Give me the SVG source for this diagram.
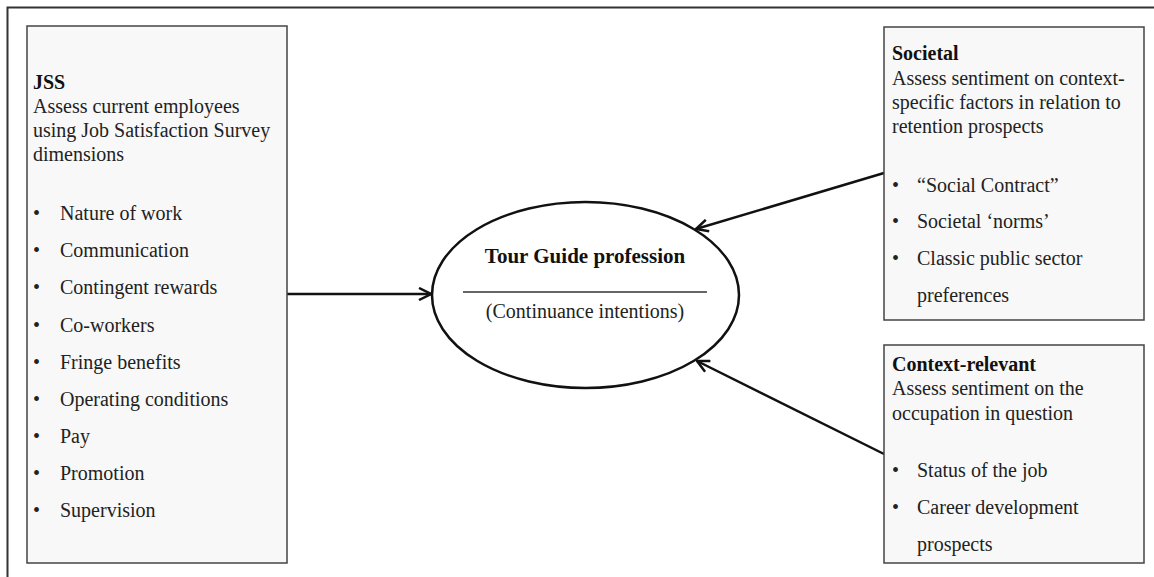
<svg xmlns="http://www.w3.org/2000/svg" width="1154" height="577" viewBox="0 0 1154 577">
<style>
.box{fill:#f8f8f8;stroke:#444;stroke-width:1.5}
.t{font-family:"Liberation Serif","Times New Roman",serif;font-size:20px;fill:#222}
.b{font-family:"Liberation Serif","Times New Roman",serif;font-size:20px;font-weight:bold;fill:#111}
.tb{font-family:"Liberation Serif","Times New Roman",serif;font-size:21px;font-weight:bold;fill:#111}
.conn{stroke:#111;stroke-width:2.5;fill:none}
</style>
<defs>
<marker id="arr" viewBox="0 0 14 14" refX="13" refY="7" markerWidth="14" markerHeight="14" markerUnits="userSpaceOnUse" orient="auto">
<path d="M1,1 L13,7 L1,13" fill="none" stroke="#111" stroke-width="2.5"/>
</marker>
</defs>
<rect width="1154" height="577" fill="#fff"/>
<g id="frame">
<path d="M7.5,577 L7.5,7.5 L1154,7.5" fill="none" stroke="#333" stroke-width="2"/>
</g>
<g id="connectors">
<line class="conn" x1="287" y1="294" x2="431" y2="294" marker-end="url(#arr)"/>
<line class="conn" x1="884" y1="173" x2="696" y2="229" marker-end="url(#arr)"/>
<line class="conn" x1="884" y1="454" x2="697" y2="361" marker-end="url(#arr)"/>
</g>
<g id="jss">
<rect class="box" x="27" y="26" width="260" height="537"/>
<text class="b" x="33" y="89">JSS</text>
<text class="t" x="33" y="113">Assess current employees</text>
<text class="t" x="33" y="137">using Job Satisfaction Survey</text>
<text class="t" x="33" y="161">dimensions</text>
<text class="t" x="33" y="220">•</text><text class="t" x="60" y="220">Nature of work</text>
<text class="t" x="33" y="257">•</text><text class="t" x="60" y="257">Communication</text>
<text class="t" x="33" y="294">•</text><text class="t" x="60" y="294">Contingent rewards</text>
<text class="t" x="33" y="332">•</text><text class="t" x="60" y="332">Co-workers</text>
<text class="t" x="33" y="369">•</text><text class="t" x="60" y="369">Fringe benefits</text>
<text class="t" x="33" y="406">•</text><text class="t" x="60" y="406">Operating conditions</text>
<text class="t" x="33" y="443">•</text><text class="t" x="60" y="443">Pay</text>
<text class="t" x="33" y="480">•</text><text class="t" x="60" y="480">Promotion</text>
<text class="t" x="33" y="517">•</text><text class="t" x="60" y="517">Supervision</text>
</g>
<g id="tour-guide">
<ellipse cx="585.5" cy="295" rx="153.5" ry="93" fill="#fff" stroke="#111" stroke-width="2.5"/>
<text class="tb" x="585" y="263" text-anchor="middle">Tour Guide profession</text>
<line x1="463" y1="292" x2="707" y2="292" stroke="#333" stroke-width="1.5"/>
<text class="t" x="585" y="318" text-anchor="middle">(Continuance intentions)</text>
</g>
<g id="societal">
<rect class="box" x="884" y="27" width="260" height="293"/>
<text class="b" x="892" y="60">Societal</text>
<text class="t" x="892" y="85">Assess sentiment on context-</text>
<text class="t" x="892" y="109">specific factors in relation to</text>
<text class="t" x="892" y="133">retention prospects</text>
<text class="t" x="892" y="192">•</text><text class="t" x="917" y="192">“Social Contract”</text>
<text class="t" x="892" y="228">•</text><text class="t" x="917" y="228">Societal ‘norms’</text>
<text class="t" x="892" y="265">•</text><text class="t" x="917" y="265">Classic public sector</text>
<text class="t" x="917" y="302">preferences</text>
</g>
<g id="context-relevant">
<rect class="box" x="884" y="345" width="260" height="218"/>
<text class="b" x="892" y="371">Context-relevant</text>
<text class="t" x="892" y="395">Assess sentiment on the</text>
<text class="t" x="892" y="420">occupation in question</text>
<text class="t" x="892" y="477">•</text><text class="t" x="917" y="477">Status of the job</text>
<text class="t" x="892" y="514">•</text><text class="t" x="917" y="514">Career development</text>
<text class="t" x="917" y="551">prospects</text>
</g>
</svg>
